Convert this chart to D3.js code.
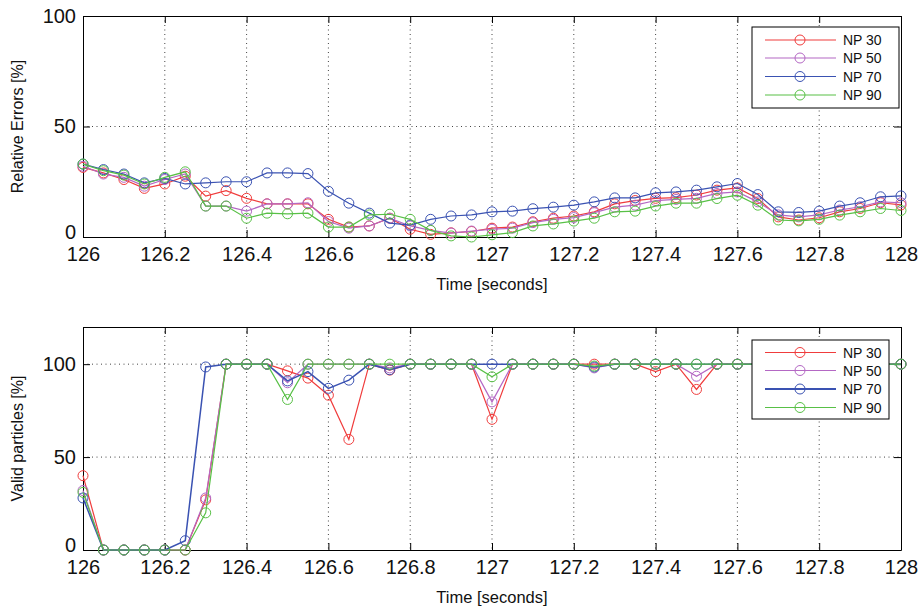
<!DOCTYPE html>
<html>
<head>
<meta charset="utf-8">
<script src="https://cdn.jsdelivr.net/npm/d3@7"></script>
<style>
  body { margin: 0; background: #fff; }
  svg { display: block; }
  text { font-family: "Liberation Sans", Arial, Helvetica, sans-serif; fill: #111; }
</style>
</head>
<body>
<svg id="chart" width="923" height="612"></svg>
<script>
// ---------- data ----------
const times = [126, 126.05, 126.1, 126.15, 126.2, 126.25, 126.3, 126.35, 126.4, 126.45,
  126.5, 126.55, 126.6, 126.65, 126.7, 126.75, 126.8, 126.85, 126.9, 126.95,
  127, 127.05, 127.1, 127.15, 127.2, 127.25, 127.3, 127.35, 127.4, 127.45,
  127.5, 127.55, 127.6, 127.65, 127.7, 127.75, 127.8, 127.85, 127.9, 127.95, 128];

const seriesNames = ["NP 30", "NP 50", "NP 70", "NP 90"];

const errNP30 = [31.5, 29, 26, 22, 24, 27.5, 18.5, 21, 17.5, 15, 15, 15, 8, 4.5, 5, 8.5, 3.5, 1.2, 1.9, 2.5,
  4, 4.5, 6.9, 8.5, 9.5, 11.4, 15, 16.5, 17.5, 17.8, 19, 21.2, 22.2, 17.4, 9.1, 7.7, 8.7, 11.4, 12.9, 15.5, 14.5];
const errNP50 = [32, 28.5, 27, 23, 26, 28.5, 14, 14, 11.7, 15, 15, 15.5, 7, 4, 5, 8.5, 5, 3, 1.8, 2.7,
  3.5, 4, 6.5, 8, 8.8, 11, 13.5, 14.4, 16.5, 17, 17.5, 19.7, 20.4, 15.9, 10, 9.1, 10, 12.2, 13.7, 15.9, 15.5];
const errNP70 = [33, 30.5, 28.5, 24.5, 26.5, 24, 24.5, 25, 25, 29, 29, 28.7, 20.7, 15.3, 10.8, 6.3, 5.4, 8, 9.5, 10,
  11.4, 11.7, 12.8, 13.5, 14.4, 15.9, 17.7, 17.7, 20, 20.4, 21.2, 22.7, 24.2, 19.2, 11.4, 11.1, 11.7, 14, 15.5, 18.2, 18.6];
const errNP90 = [33, 30, 28, 24, 27, 29.5, 14, 14, 8.5, 10.8, 10.5, 10.8, 4.5, 4.5, 10, 10.3, 8, 3, 0.5, 0,
  1, 2, 5, 5.9, 7.2, 8.5, 11.4, 11.7, 14, 15.3, 15.3, 17.4, 18.9, 14.4, 7.7, 7.3, 8, 9.9, 11.4, 12.9, 12];

const validNP30 = [40, 0, 0, 0, 0, 0, 27, 100, 100, 100, 96.4, 92.5, 83.3, 59.5, 100, 96.8, 100, 100, 100, 100,
  70.3, 100, 100, 100, 100, 100, 100, 100, 96, 100, 86.4, 100, 100, 100, 100, 100, 100, 100, 100, 100, 100];
const validNP50 = [32, 0, 0, 0, 0, 0, 28, 100, 100, 100, 90, 100, 100, 100, 100, 98, 100, 100, 100, 100,
  79.7, 100, 100, 100, 100, 98, 100, 100, 100, 100, 93.5, 100, 100, 100, 100, 100, 100, 100, 100, 100, 100];
const validNP70 = [28, 0, 0, 0, 0, 5, 98.5, 100, 100, 100, 91, 96, 87, 91.4, 100, 97, 100, 100, 100, 100,
  100, 100, 100, 100, 100, 98.5, 100, 100, 100, 100, 100, 100, 100, 100, 100, 100, 100, 100, 100, 100, 100];
const validNP90 = [31, 0, 0, 0, 0, 0, 20, 100, 100, 100, 81, 100, 100, 100, 100, 100, 100, 100, 100, 100,
  93.2, 100, 100, 100, 100, 99, 100, 100, 100, 100, 100, 100, 100, 100, 100, 100, 100, 100, 100, 100, 100];

const xTicks = [126, 126.2, 126.4, 126.6, 126.8, 127, 127.2, 127.4, 127.6, 127.8, 128];
const xTickLabels = ["126", "126.2", "126.4", "126.6", "126.8", "127", "127.2", "127.4", "127.6", "127.8", "128"];
const yTicks = [0, 50, 100];

const colors = ["#f03c3c", "#b468c4", "#3a52b2", "#58c046"];

// ---------- drawing ----------
const svg = d3.select("#chart");
const FONT = '"Liberation Sans", Arial, Helvetica, sans-serif';

function drawPanel(cfg) {
  const { top, bottom, left, right, yMax, series, yLabel, legend, lineWidths } = cfg;
  const x = d3.scaleLinear().domain([126, 128]).range([left, right]);
  const y = d3.scaleLinear().domain([0, yMax]).range([bottom, top]);
  const g = svg.append("g");

  // grid (dotted)
  g.append("g").selectAll("line").data(xTicks.filter(t => t > 126 && t < 128)).join("line")
    .attr("x1", d => x(d)).attr("x2", d => x(d)).attr("y1", top).attr("y2", bottom)
    .attr("stroke", "#444").attr("stroke-width", 1).attr("stroke-dasharray", "1,3.5");
  g.append("g").selectAll("line").data(yTicks.filter(t => t > 0 && t < yMax)).join("line")
    .attr("x1", left).attr("x2", right).attr("y1", d => y(d)).attr("y2", d => y(d))
    .attr("stroke", "#444").attr("stroke-width", 1).attr("stroke-dasharray", "1,3.5");

  // axes
  const tickFmt = (d) => xTickLabels[xTicks.indexOf(d)];
  const ax = g.append("g").attr("transform", `translate(0,${bottom})`)
    .call(d3.axisBottom(x).tickValues(xTicks).tickFormat(tickFmt).tickSize(-7).tickSizeOuter(0).tickPadding(10));
  ax.selectAll("text").attr("font-size", 20).attr("font-family", FONT).attr("fill", "#111");
  const axT = g.append("g").attr("transform", `translate(0,${top})`)
    .call(d3.axisTop(x).tickValues(xTicks).tickFormat("").tickSize(-7).tickSizeOuter(0));
  const ay = g.append("g").attr("transform", `translate(${left},0)`)
    .call(d3.axisLeft(y).tickValues(yTicks).tickSize(-7).tickSizeOuter(0).tickPadding(7));
  ay.selectAll("text").attr("font-size", 20).attr("font-family", FONT).attr("fill", "#111");
  ay.selectAll(".tick").filter(d => d === 0).select("text").attr("dy", "0.08em");
  const ayR = g.append("g").attr("transform", `translate(${right},0)`)
    .call(d3.axisRight(y).tickValues(yTicks).tickFormat("").tickSize(-7).tickSizeOuter(0));
  [ax, axT, ay, ayR].forEach(a => {
    a.select(".domain").attr("stroke", "#000").attr("stroke-width", 1);
    a.selectAll(".tick line").attr("stroke", "#000").attr("stroke-width", 1);
  });

  // series
  const line = d3.line().x((d, i) => x(times[i])).y(d => y(d));
  series.forEach((vals, si) => {
    const sg = g.append("g");
    sg.append("path").datum(vals).attr("d", line).attr("fill", "none")
      .attr("stroke", colors[si]).attr("stroke-width", lineWidths[si]);
    sg.selectAll("circle").data(vals).join("circle")
      .attr("cx", (d, i) => x(times[i])).attr("cy", d => y(d)).attr("r", 5)
      .attr("fill", "none").attr("stroke", colors[si]).attr("stroke-width", 1);
  });

  // axis labels
  svg.append("text").attr("x", (left + right) / 2).attr("y", bottom + 53)
    .attr("text-anchor", "middle").attr("font-size", 16.5).text("Time [seconds]");
  svg.append("text").attr("transform", `translate(23,${(top + bottom) / 2}) rotate(-90)`)
    .attr("text-anchor", "middle").attr("font-size", 16).text(yLabel);

  // legend
  const L = legend;
  const lg = svg.append("g");
  lg.append("rect").attr("x", L.x0).attr("y", L.y0).attr("width", L.x1 - L.x0).attr("height", L.y1 - L.y0)
    .attr("fill", "#fff").attr("stroke", "#000").attr("stroke-width", 1);
  seriesNames.forEach((name, si) => {
    const yy = L.rows[si];
    lg.append("line").attr("x1", 765).attr("x2", 836).attr("y1", yy).attr("y2", yy)
      .attr("stroke", colors[si]).attr("stroke-width", L.widths[si]);
    lg.append("circle").attr("cx", 800).attr("cy", yy).attr("r", 5)
      .attr("fill", "none").attr("stroke", colors[si]).attr("stroke-width", 1);
    lg.append("text").attr("x", 843).attr("y", yy).attr("dy", "0.36em")
      .attr("font-size", 14).text(name);
  });
}

drawPanel({
  top: 16, bottom: 237, left: 83, right: 901, yMax: 100,
  series: [errNP30, errNP50, errNP70, errNP90],
  lineWidths: [1.2, 1.2, 1.2, 1.2],
  yLabel: "Relative Errors [%]",
  legend: { x0: 752, y0: 27, x1: 899, y1: 108, rows: [40, 58, 76.5, 95], widths: [1.2, 1.2, 1.2, 1.2] }
});

drawPanel({
  top: 327, bottom: 550, left: 83, right: 901, yMax: 120,
  series: [validNP30, validNP50, validNP70, validNP90],
  lineWidths: [1.2, 1.2, 1.5, 1.2],
  yLabel: "Valid particles [%]",
  legend: { x0: 752, y0: 340, x1: 889, y1: 419, rows: [352.5, 370.5, 389, 407.5], widths: [1.2, 1.2, 2.2, 1.2] }
});
</script>
</body>
</html>
